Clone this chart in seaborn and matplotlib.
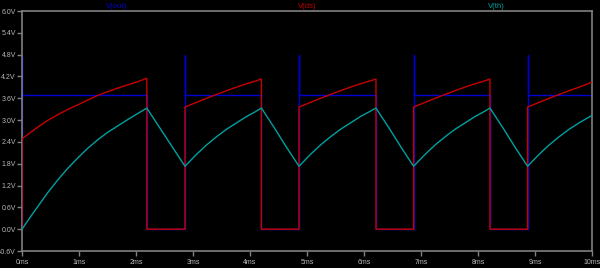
import numpy as np
import pandas as pd
import matplotlib
matplotlib.use("Agg")
import matplotlib.pyplot as plt
import seaborn as sns

# ---- data (time in ms, volts) ----
t_out = [0, 0, 0, 2.19, 2.19, 2.86, 2.86, 2.86, 4.20, 4.20, 4.86, 4.86, 4.86,
         6.21, 6.21, 6.87, 6.87, 6.87, 8.21, 8.21, 8.87, 8.87, 8.87, 10.0]
v_out = [0, 4.8, 3.7, 3.7, 0, 0, 4.8, 3.7, 3.7, 0, 0, 4.8, 3.7,
         3.7, 0, 0, 4.8, 3.7, 3.7, 0, 0, 4.8, 3.7, 3.7]

t_ds = [0, 0, 0.14, 0.28, 0.45, 0.63, 0.80, 0.98, 1.15, 1.33, 1.50, 1.68, 1.86, 2.04, 2.19,
        2.19, 2.86,
        2.86, 3.05, 3.24, 3.42, 3.59, 3.77, 3.94, 4.07, 4.20,
        4.20, 4.86,
        4.86, 5.05, 5.24, 5.42, 5.59, 5.77, 5.94, 6.07, 6.21,
        6.21, 6.87,
        6.87, 7.06, 7.25, 7.43, 7.60, 7.78, 7.95, 8.08, 8.21,
        8.21, 8.87,
        8.87, 9.06, 9.25, 9.43, 9.60, 9.78, 10.0]
v_ds = [0, 2.48, 2.65, 2.81, 2.99, 3.15, 3.29, 3.42, 3.55, 3.68, 3.78, 3.88, 3.97, 4.06, 4.15,
        0, 0,
        3.36, 3.48, 3.60, 3.71, 3.81, 3.91, 4.00, 4.06, 4.13,
        0, 0,
        3.36, 3.48, 3.60, 3.71, 3.81, 3.91, 4.00, 4.06, 4.13,
        0, 0,
        3.36, 3.48, 3.60, 3.71, 3.81, 3.91, 4.00, 4.06, 4.13,
        0, 0,
        3.36, 3.48, 3.60, 3.71, 3.81, 3.91, 4.04]

t_th = [0, 0.14, 0.28, 0.45, 0.63, 0.80, 0.98, 1.15, 1.33, 1.50, 1.68, 1.86, 2.04, 2.19,
        2.42, 2.65, 2.86,
        3.05, 3.24, 3.42, 3.59, 3.77, 3.94, 4.07, 4.20,
        4.43, 4.65, 4.86,
        5.05, 5.24, 5.42, 5.59, 5.77, 5.94, 6.07, 6.21,
        6.44, 6.66, 6.87,
        7.06, 7.25, 7.43, 7.60, 7.78, 7.95, 8.08, 8.21,
        8.44, 8.66, 8.87,
        9.06, 9.25, 9.43, 9.60, 9.78, 10.0]
v_th = [0, 0.32, 0.63, 1.00, 1.36, 1.67, 1.96, 2.22, 2.46, 2.66, 2.84, 3.02, 3.19, 3.33,
        2.78, 2.23, 1.73,
        2.04, 2.32, 2.55, 2.75, 2.93, 3.10, 3.21, 3.33,
        2.78, 2.23, 1.73,
        2.04, 2.32, 2.55, 2.75, 2.93, 3.10, 3.21, 3.33,
        2.78, 2.23, 1.73,
        2.04, 2.32, 2.55, 2.75, 2.93, 3.10, 3.21, 3.33,
        2.78, 2.23, 1.73,
        2.04, 2.32, 2.55, 2.75, 2.93, 3.13]

trace_names = ["V(out)", "V(ds)", "V(th)"]
trace_colors = ["#0000d0", "#c80000", "#00a0a0"]
y_ticks = [-0.6, 0.0, 0.6, 1.2, 1.8, 2.4, 3.0, 3.6, 4.2, 4.8, 5.4, 6.0]
y_tick_labels = ["-0.6V", "0.0V", "0.6V", "1.2V", "1.8V", "2.4V", "3.0V", "3.6V",
                 "4.2V", "4.8V", "5.4V", "6.0V"]
x_ticks = [0, 1, 2, 3, 4, 5, 6, 7, 8, 9, 10]
x_tick_labels = ["0ms", "1ms", "2ms", "3ms", "4ms", "5ms", "6ms", "7ms", "8ms", "9ms", "10ms"]

# ---- figure ----
sns.set_style("dark")
plt.rcParams["font.family"] = ["Liberation Sans", "DejaVu Sans"]

W, H = 600, 268
fig = plt.figure(figsize=(W / 100, H / 100), dpi=100, facecolor="black")
ax = fig.add_axes([22 / W, (H - 251) / H, (592 - 22) / W, (251 - 11) / H])
ax.set_facecolor("black")

frames = [
    pd.DataFrame({"t": t_out, "v": v_out}),
    pd.DataFrame({"t": t_ds, "v": v_ds}),
    pd.DataFrame({"t": t_th, "v": v_th}),
]
for i, (df, col) in enumerate(zip(frames, trace_colors)):
    sns.lineplot(data=df, x="t", y="v", ax=ax, sort=False, estimator=None,
                 color=col, linewidth=1.0, zorder=2 + i)

ax.set_xlim(0, 10)
ax.set_ylim(-0.6, 6.0)
ax.set_xticks(x_ticks)
ax.set_xticklabels(x_tick_labels)
ax.set_yticks(y_ticks)
ax.set_yticklabels(y_tick_labels)
ax.set_xlabel("")
ax.set_ylabel("")
ax.grid(False)
for s in ax.spines.values():
    s.set_visible(True)
    s.set_color("#808080")
    s.set_linewidth(1.2)
ax.tick_params(axis="both", colors="#808080", length=3.5, width=1.0,
               labelcolor="#b8b8b8", labelsize=5, pad=1, direction="out")
ax.tick_params(axis="x", bottom=True, pad=2)
ax.tick_params(axis="y", left=True)

title_x = [116, 307, 496]
for name, col, xp in zip(trace_names, trace_colors, title_x):
    fig.text(xp / W, 1 - 6 / H, name, color=col, fontsize=5.5,
             ha="center", va="center")

fig.savefig("out.png", dpi=100, facecolor="black")
